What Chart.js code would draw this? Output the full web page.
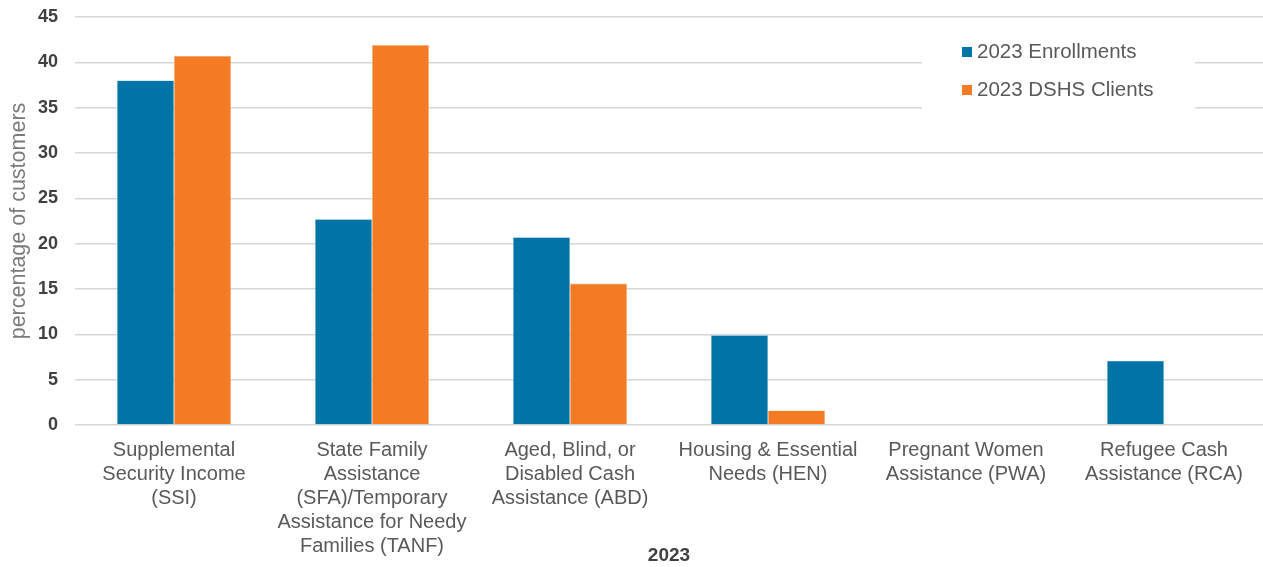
<!DOCTYPE html>
<html>
<head>
<meta charset="utf-8">
<script src="https://cdn.jsdelivr.net/npm/chart.js@4.4.1/dist/chart.umd.min.js"></script>
<style>
  html, body { margin: 0; padding: 0; background: #fff; }
  #wrap { width: 1263px; height: 567px; }
</style>
</head>
<body>
<div id="wrap"><canvas id="programs"></canvas></div>
<script>
const programs = [
  ['Supplemental', 'Security Income', '(SSI)'],
  ['State Family', 'Assistance', '(SFA)/Temporary', 'Assistance for Needy', 'Families (TANF)'],
  ['Aged, Blind, or', 'Disabled Cash', 'Assistance (ABD)'],
  ['Housing & Essential', 'Needs (HEN)'],
  ['Pregnant Women', 'Assistance (PWA)'],
  ['Refugee Cash', 'Assistance (RCA)']
];
const enrollments = [38.0, 22.7, 20.7, 9.9, 0, 7.1];
const dshsClients = [40.7, 41.9, 15.6, 1.6, 0, 0];
const yTicks = [0, 5, 10, 15, 20, 25, 30, 35, 40, 45];

const BLUE = '#0073a7';
const ORANGE = '#f47a24';
const FONT = "'Liberation Sans', Arial, sans-serif";

// legend box drawn inside the plot, over the gridlines
const insideLegend = {
  id: 'insideLegend',
  afterDatasetsDraw(chart) {
    const c = chart.ctx;
    c.save();
    c.fillStyle = '#fff';
    c.fillRect(922, 30, 273, 82);
    c.font = '20.5px ' + FONT;
    c.textBaseline = 'middle';
    chart.data.datasets.forEach((ds, i) => {
      const y = 52 + i * 38;
      c.fillStyle = ds.backgroundColor;
      c.fillRect(962, y - 5, 10, 10);
      c.fillStyle = '#595959';
      c.fillText(ds.label, 977, y);
    });
    c.restore();
  }
};

new Chart(document.getElementById('programs'), {
  type: 'bar',
  data: {
    labels: programs,
    datasets: [
      {
        label: '2023 Enrollments',
        data: enrollments,
        backgroundColor: BLUE,
        borderColor: '#7fb8d3',
        borderWidth: 0.6
      },
      {
        label: '2023 DSHS Clients',
        data: dshsClients,
        backgroundColor: ORANGE,
        borderColor: '#f9b586',
        borderWidth: 0.6
      }
    ]
  },
  options: {
    responsive: true,
    maintainAspectRatio: false,
    animation: false,
    layout: { padding: { top: 0, right: 0, left: 4, bottom: 0 } },
    categoryPercentage: 0.576,
    barPercentage: 1,
    plugins: {
      legend: { display: false },
      tooltip: { enabled: false }
    },
    scales: {
      x: {
        grid: { display: false },
        border: { display: false },
        afterFit(axis) { axis.height = 142; },
        ticks: {
          color: '#595959',
          font: { family: FONT, size: 20, lineHeight: '24px' },
          maxRotation: 0,
          autoSkip: false,
          padding: 5
        },
        title: {
          display: true,
          text: '2023',
          color: '#404040',
          font: { family: FONT, size: 19, weight: 'bold' },
          padding: { top: -14, bottom: 0 }
        }
      },
      y: {
        min: 0,
        max: 45,
        afterFit(axis) {
          axis.width = 71;
          axis.paddingTop = 17;
          axis.paddingBottom = 0;
        },
        afterBuildTicks(axis) {
          axis.ticks = yTicks.map(v => ({ value: v }));
        },
        grid: {
          color: '#d6d6d6',
          lineWidth: 1.6,
          drawTicks: false
        },
        border: { display: false },
        ticks: {
          color: '#404040',
          font: { family: FONT, size: 18, weight: 'bold' },
          padding: 17
        },
        title: {
          display: true,
          text: 'percentage of customers',
          color: '#7a7a7a',
          font: { family: FONT, size: 21.5 },
          padding: { top: 2, bottom: 8 }
        }
      }
    }
  },
  plugins: [insideLegend]
});
</script>
</body>
</html>
